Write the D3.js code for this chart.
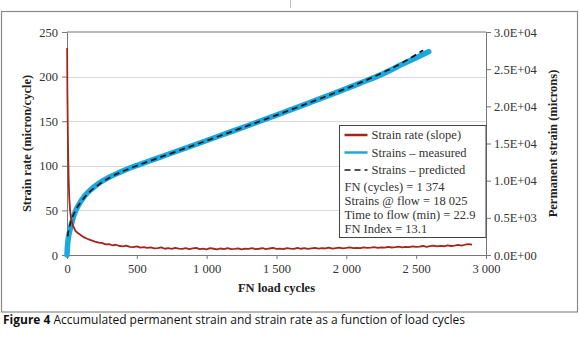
<!DOCTYPE html>
<html>
<head>
<meta charset="utf-8">
<script src="https://cdn.jsdelivr.net/npm/d3@7"></script>
<style>
  body { margin: 0; background: #fff; }
  svg { display: block; }
</style>
</head>
<body>
<div id="chart"></div>
<script>
// strain rate (slope), micron/cycle  -- left axis
const rateCycles = [1, 3, 5, 8, 12, 16, 21, 28, 35, 45, 60, 75, 93, 120, 140, 165, 200, 236,
  250, 275, 300, 325, 350, 375, 400, 425, 450, 475,
  500, 525, 550, 575, 600, 625, 650, 675, 700, 725,
  750, 775, 800, 825, 850, 875, 900, 925, 950, 975,
  1000, 1025, 1050, 1075, 1100, 1125, 1150, 1175, 1200, 1225,
  1250, 1275, 1300, 1325, 1350, 1375, 1400, 1425, 1450, 1475,
  1500, 1525, 1550, 1575, 1600, 1625, 1650, 1675, 1700, 1725,
  1750, 1775, 1800, 1825, 1850, 1875, 1900, 1925, 1950, 1975,
  2000, 2025, 2050, 2075, 2100, 2125, 2150, 2175, 2200, 2225,
  2250, 2275, 2300, 2325, 2350, 2375, 2400, 2425, 2450, 2475,
  2500, 2525, 2550, 2575, 2600, 2625, 2650, 2675, 2700, 2725,
  2750, 2775, 2800, 2825, 2850, 2875, 2900];
const rateValues = [232, 180, 150, 115, 85, 65, 52, 42, 37, 32, 27, 25, 23, 20, 18.5, 17, 15, 13.5,
  13.6, 12.0, 12.3, 10.9, 11.5, 10.1, 9.6, 10.4, 9.1, 8.8,
  9.7, 8.2, 8.9, 7.9, 8.6, 7.4, 7.8, 8.5, 7.0, 7.6,
  6.9, 8.1, 7.2, 6.8, 7.7, 6.5, 7.4, 7.9, 6.6, 7.1,
  6.4, 7.6, 7.0, 6.3, 7.3, 6.7, 7.8, 6.5, 6.9, 7.5,
  6.4, 7.2, 6.8, 7.7, 6.6, 7.0, 7.6, 6.5, 7.3, 7.9,
  6.8, 7.2, 6.6, 7.8, 7.1, 6.9, 7.9, 7.0, 7.6, 6.8,
  7.4, 8.0, 7.1, 7.7, 7.3, 8.2, 7.2, 7.8, 8.3, 7.4,
  7.9, 8.5, 7.6, 8.1, 7.7, 8.6, 7.9, 8.3, 8.9, 7.9,
  8.6, 8.2, 9.1, 8.4, 8.8, 9.4, 8.5, 9.2, 8.8, 9.7,
  9.0, 9.5, 10.1, 9.2, 9.9, 10.5, 9.6, 10.3, 9.8, 10.8,
  10.1, 10.6, 11.3, 10.4, 11.5, 12.3, 11.6];

// permanent strain, microns -- right axis
const measuredCycles = [0, 3, 6, 10, 15, 21, 30, 40, 57, 75, 93, 125, 165, 200, 236, 300, 380, 450, 523,
  600, 700, 800, 900, 1000, 1150, 1332, 1500, 1700, 1931, 2100, 2240, 2400, 2500, 2590];
const measuredStrain = [0, 1100, 1700, 2300, 2850, 3350, 4050, 4750, 5700, 6450, 7050, 7900, 8700, 9250, 9750,
  10450, 11150, 11700, 12200, 12720, 13390, 14060, 14730, 15400, 16420, 17660, 18820, 20220, 21870,
  23120, 24200, 25650, 26550, 27350];

const predictedCycles = [5, 10, 15, 21, 30, 40, 57, 75, 93, 125, 165, 200, 236, 300, 380, 450, 523,
  600, 700, 800, 900, 1000, 1150, 1332, 1500, 1700, 1931, 2100, 2240, 2400, 2550];
const predictedStrain = [2500, 3200, 3650, 4050, 4650, 5150, 5850, 6450, 6950, 7750, 8550, 9100, 9600,
  10350, 11100, 11650, 12170, 12700, 13370, 14040, 14710, 15380, 16400, 17650, 18820, 20230, 21900,
  23180, 24350, 25850, 27550];

const xTicks = [0, 500, 1000, 1500, 2000, 2500, 3000];
const leftTicks = [0, 50, 100, 150, 200, 250];
const rightTicks = [0, 5000, 10000, 15000, 20000, 25000, 30000];
const rightTickLabels = ["0.0E+00", "0.5E+03", "1.0E+04", "1.5E+04", "2.0E+04", "2.5E+04", "3.0E+04"];

const legendLines = ["Strain rate (slope)", "Strains \u2013 measured", "Strains \u2013 predicted"];
const legendStats = ["FN (cycles) = 1 374", "Strains @ flow = 18 025", "Time to flow (min) = 22.9", "FN Index = 13.1"];

const width = 580, height = 337;
const margin = { top: 32, right: 94, bottom: 82, left: 67 };
const serif = "'Liberation Serif', 'DejaVu Serif', serif";

const svg = d3.select("#chart").append("svg")
  .attr("width", width)
  .attr("height", height);

// outer frame
svg.append("rect")
  .attr("x", 1.5).attr("y", 11.5)
  .attr("width", 576).attr("height", 300.5)
  .attr("fill", "none").attr("stroke", "#8a8a8a").attr("stroke-width", 1.2);
svg.append("line")
  .attr("x1", 290.5).attr("x2", 290.5).attr("y1", 0).attr("y2", 8)
  .attr("stroke", "#bbb");

const x = d3.scaleLinear().domain([0, 3000]).range([margin.left, width - margin.right]);
const yL = d3.scaleLinear().domain([0, 250]).range([height - margin.bottom, margin.top]);
const yR = d3.scaleLinear().domain([0, 30000]).range([height - margin.bottom, margin.top]);

const fmt = d3.formatLocale({ decimal: ".", thousands: " ", grouping: [3], currency: ["", ""] }).format(",");

// gridlines
svg.append("g")
  .selectAll("line")
  .data(leftTicks.filter(d => d > 0 && d < 250))
  .enter().append("line")
  .attr("x1", x(0)).attr("x2", x(3000))
  .attr("y1", d => Math.round(yL(d)) + 0.5).attr("y2", d => Math.round(yL(d)) + 0.5)
  .attr("stroke", "#d9d9d9").attr("stroke-width", 1);

// top border
svg.append("line")
  .attr("x1", x(0)).attr("x2", x(3000))
  .attr("y1", yL(250)).attr("y2", yL(250))
  .attr("stroke", "#777").attr("stroke-width", 1);

// axes
const styleAxis = g => {
  g.select(".domain").attr("stroke", "#777");
  g.selectAll(".tick line").attr("stroke", "#777");
  g.selectAll("text")
    .style("font-family", serif)
    .style("font-size", "12.5px")
    .style("fill", "#333");
};

svg.append("g")
  .attr("transform", `translate(0,${yL(0)})`)
  .call(d3.axisBottom(x).tickValues(xTicks).tickFormat(fmt).tickSize(4).tickSizeOuter(0).tickPadding(5))
  .call(styleAxis);

svg.append("g")
  .attr("transform", `translate(${x(0)},0)`)
  .call(d3.axisLeft(yL).tickValues(leftTicks).tickSize(5).tickSizeOuter(0).tickPadding(4))
  .call(styleAxis);

svg.append("g")
  .attr("transform", `translate(${x(3000)},0)`)
  .call(d3.axisRight(yR).tickValues(rightTicks).tickFormat((d, i) => rightTickLabels[i]).tickSize(5).tickSizeOuter(0).tickPadding(3))
  .call(styleAxis);

// series
const rateLine = d3.line().x((d, i) => x(rateCycles[i])).y(d => yL(d));
const measuredLine = d3.line().curve(d3.curveMonotoneX).x((d, i) => x(measuredCycles[i])).y(d => yR(d));
const predictedLine = d3.line().curve(d3.curveMonotoneX).x((d, i) => x(predictedCycles[i])).y(d => yR(d));

svg.append("path")
  .datum(measuredStrain)
  .attr("d", measuredLine)
  .attr("fill", "none")
  .attr("stroke", "#1ba8e0")
  .attr("stroke-width", 5.5)
  .attr("stroke-linecap", "round");

svg.append("path")
  .datum(predictedStrain)
  .attr("d", predictedLine)
  .attr("fill", "none")
  .attr("stroke", "#1a1a1a")
  .attr("stroke-width", 1.8)
  .attr("stroke-dasharray", "6,4");

svg.append("path")
  .datum(rateValues)
  .attr("d", rateLine)
  .attr("fill", "none")
  .attr("stroke", "#a3261c")
  .attr("stroke-width", 1.8)
  .attr("stroke-linejoin", "round");

// axis titles
svg.append("text")
  .attr("x", (x(0) + x(3000)) / 2)
  .attr("y", 292)
  .attr("text-anchor", "middle")
  .style("font-family", serif).style("font-size", "12.5px").style("font-weight", "bold").style("fill", "#222")
  .text("FN load cycles");

svg.append("text")
  .attr("transform", `translate(31,${(yL(0) + yL(250)) / 2}) rotate(-90)`)
  .attr("text-anchor", "middle")
  .style("font-family", serif).style("font-size", "12.5px").style("font-weight", "bold").style("fill", "#222")
  .text("Strain rate (micron/cycle)");

svg.append("text")
  .attr("transform", `translate(557,${(yL(0) + yL(250)) / 2}) rotate(-90)`)
  .attr("text-anchor", "middle")
  .style("font-family", serif).style("font-size", "12.5px").style("font-weight", "bold").style("fill", "#222")
  .text("Permanent strain (microns)");

// legend
const legend = svg.append("g").attr("transform", "translate(339.5,125.5)");
legend.append("rect")
  .attr("width", x(3000) - 339.5).attr("height", 112)
  .attr("fill", "#fff").attr("stroke", "#444").attr("stroke-width", 1);

const legendStyles = [
  { color: "#a3261c", w: 2.5, dash: null },
  { color: "#1ba8e0", w: 2.5, dash: null },
  { color: "#1a1a1a", w: 1.5, dash: "6,4" }
];
const lineRowY = [9.5, 27, 44.5];
legendLines.forEach((label, i) => {
  legend.append("line")
    .attr("x1", 5).attr("x2", 28)
    .attr("y1", lineRowY[i]).attr("y2", lineRowY[i])
    .attr("stroke", legendStyles[i].color)
    .attr("stroke-width", legendStyles[i].w)
    .attr("stroke-dasharray", legendStyles[i].dash);
  legend.append("text")
    .attr("x", 32).attr("y", lineRowY[i]).attr("dy", "0.35em")
    .style("font-family", serif).style("font-size", "12.5px").style("fill", "#333")
    .text(label);
});
const statRowY = [61, 75, 89, 103];
legendStats.forEach((label, i) => {
  legend.append("text")
    .attr("x", 5).attr("y", statRowY[i]).attr("dy", "0.35em")
    .style("font-family", serif).style("font-size", "12.5px").style("fill", "#333")
    .text(label);
});

// caption
const caption = svg.append("text")
  .attr("x", 3).attr("y", 324)
  .attr("textLength", 462).attr("lengthAdjust", "spacingAndGlyphs")
  .style("font-family", "'Open Sans', 'Noto Sans', sans-serif")
  .style("font-size", "13px").style("fill", "#111");
caption.append("tspan").style("font-weight", "bold").text("Figure 4");
caption.append("tspan").text(" Accumulated permanent strain and strain rate as a function of load cycles");
</script>
</body>
</html>
